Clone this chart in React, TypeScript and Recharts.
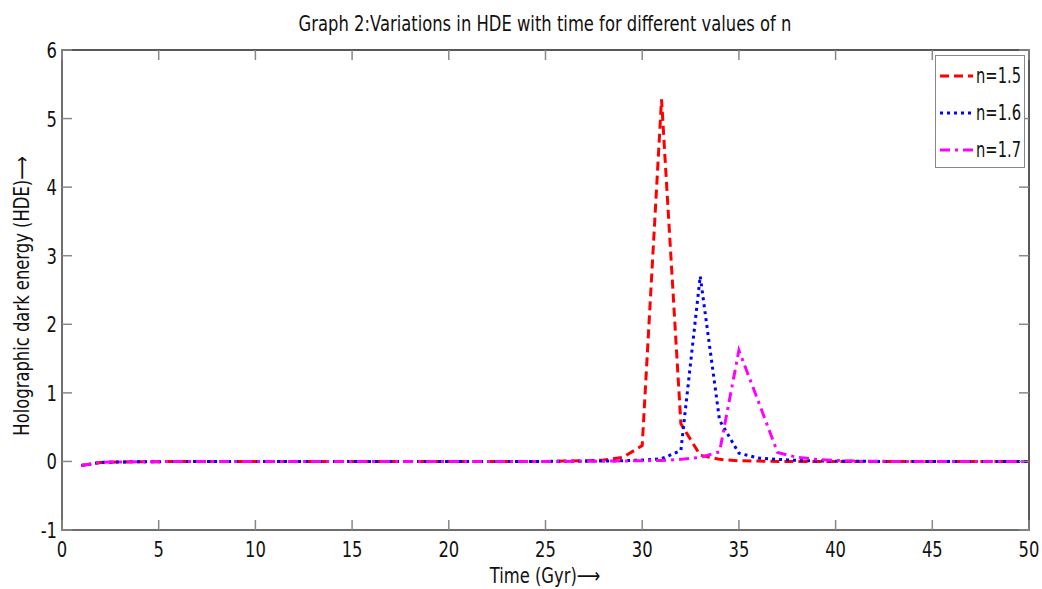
import React from "react";
import { LineChart, Line, XAxis, YAxis } from "recharts";

const time = [
  1, 2, 3, 4, 5, 6, 7, 8, 9, 10, 11, 12, 13, 14, 15, 16, 17, 18, 19, 20, 21, 22, 23, 24, 25,
  26, 27, 28, 29, 30, 31, 32, 33, 34, 35, 36, 37, 38, 39, 40, 41, 42, 43, 44, 45, 46, 47, 48, 49, 50,
];

const hde15 = [
  -0.06, -0.015, -0.008, -0.005, -0.003, -0.002, -0.001, 0, 0, 0, 0, 0, 0, 0, 0, 0, 0, 0, 0, 0, 0, 0, 0, 0, 0,
  0.005, 0.01, 0.02, 0.06, 0.23, 5.28, 0.55, 0.09, 0.03, 0.01, 0.005, 0, 0, 0, 0, 0, 0, 0, 0, 0, 0, 0, 0, 0, 0,
];

const hde16 = [
  -0.06, -0.015, -0.008, -0.005, -0.003, -0.002, -0.001, 0, 0, 0, 0, 0, 0, 0, 0, 0, 0, 0, 0, 0, 0, 0, 0, 0, 0,
  0.002, 0.004, 0.006, 0.01, 0.02, 0.04, 0.16, 2.7, 0.6, 0.12, 0.05, 0.03, 0.015, 0.008, 0.004, 0.002, 0, 0, 0, 0, 0, 0, 0, 0, 0,
];

const hde17 = [
  -0.06, -0.015, -0.008, -0.005, -0.003, -0.002, -0.001, 0, 0, 0, 0, 0, 0, 0, 0, 0, 0, 0, 0, 0, 0, 0, 0, 0, 0,
  0, 0.002, 0.004, 0.007, 0.01, 0.015, 0.03, 0.06, 0.14, 1.62, 0.88, 0.13, 0.06, 0.03, 0.015, 0.005, 0.002, 0, 0, 0, 0, 0, 0, 0, 0,
];

const xTicks = [0, 5, 10, 15, 20, 25, 30, 35, 40, 45, 50];
const yTicks = [-1, 0, 1, 2, 3, 4, 5, 6];

const series = [
  { key: "a", name: "n=1.5", color: "#ff0000", dash: "9 5" },
  { key: "b", name: "n=1.6", color: "#0000ff", dash: "3 4" },
  { key: "c", name: "n=1.7", color: "#ff00ff", dash: "10 5 3 5" },
];

const data = time.map((t, i) => ({ t, a: hde15[i], b: hde16[i], c: hde17[i] }));

// plot box edges (px)
const LEFT = 62;
const RIGHT = 1029;
const TOP = 50;
const BOTTOM = 530;

const FONT = "'DejaVu Sans', sans-serif";
const SQUEEZE = 0.78; // reference uses a very narrow face
const TICK_COLOR = "#888888";

// text squeezed horizontally to mimic the condensed font
function Narrow({ x, y, anchor = "middle", rotate = 0, size = 21, children }: any) {
  return (
    <text
      transform={`translate(${x},${y}) rotate(${rotate}) scale(${SQUEEZE},1)`}
      textAnchor={anchor}
      fontSize={size}
      fill="#111"
      fontFamily={FONT}
    >
      {children}
    </text>
  );
}

function BottomTick({ x, payload }: any) {
  return (
    <g>
      <line x1={x} x2={x} y1={BOTTOM} y2={BOTTOM - 10} stroke={TICK_COLOR} strokeWidth={1.5} />
      <Narrow x={x} y={BOTTOM + 27}>{payload.value}</Narrow>
    </g>
  );
}

function LeftTick({ y, payload }: any) {
  return (
    <g>
      <line x1={LEFT} x2={LEFT + 10} y1={y} y2={y} stroke={TICK_COLOR} strokeWidth={1.5} />
      <Narrow x={LEFT - 5} y={y + 8} anchor="end">{payload.value}</Narrow>
      <line x1={RIGHT} x2={RIGHT - 10} y1={y} y2={y} stroke={TICK_COLOR} strokeWidth={1.5} />
    </g>
  );
}

function TopTick({ x }: any) {
  return <line x1={x} x2={x} y1={TOP} y2={TOP + 10} stroke={TICK_COLOR} strokeWidth={1.5} />;
}

function LegendBox() {
  return (
    <div
      style={{
        position: "absolute",
        left: 935,
        top: 55,
        width: 90,
        height: 113,
        boxSizing: "border-box",
        border: "1.5px solid #888",
        background: "#fff",
        padding: "1px 4px",
        fontFamily: FONT,
        fontSize: 21,
        color: "#111",
      }}
    >
      {series.map((s) => (
        <div key={s.key} style={{ display: "flex", alignItems: "center", height: 37 }}>
          <svg width={33} height={10} style={{ marginRight: 3, flex: "none" }}>
            <line x1={0} x2={33} y1={5} y2={5} stroke={s.color} strokeWidth={3} strokeDasharray={s.dash} />
          </svg>
          <span style={{ display: "inline-block", transform: "scaleX(0.7)", transformOrigin: "left center" }}>
            {s.name}
          </span>
        </div>
      ))}
    </div>
  );
}

export default function App() {
  return (
    <div style={{ position: "absolute", left: 0, top: 0, width: 1042, height: 589, background: "#fff" }}>
      <LineChart
        width={1042}
        height={589}
        data={data}
        margin={{ top: TOP - 1, right: 1042 - RIGHT, left: 0, bottom: 0 }}
      >
        <Narrow x={545} y={31}>Graph 2:Variations in HDE with time for different values of n</Narrow>
        <Narrow x={545} y={583}>Time (Gyr)⟶</Narrow>
        <Narrow x={29} y={296} rotate={-90}>Holographic dark energy (HDE)⟶</Narrow>
        <rect x={LEFT} y={TOP} width={RIGHT - LEFT} height={BOTTOM - TOP} fill="none" stroke="#222" strokeWidth={1.5} />
        <XAxis
          dataKey="t"
          type="number"
          domain={[0, 50]}
          ticks={xTicks}
          height={589 - BOTTOM}
          tickSize={0}
          tickMargin={0}
          tickLine={false}
          axisLine={{ stroke: "#777", strokeWidth: 1.5 }}
          tick={<BottomTick />}
          interval={0}
        />
        <XAxis
          xAxisId="top"
          dataKey="t"
          type="number"
          orientation="top"
          domain={[0, 50]}
          ticks={xTicks}
          height={1}
          tickSize={0}
          tickMargin={0}
          tickLine={false}
          axisLine={false}
          tick={<TopTick />}
          interval={0}
        />
        <YAxis
          type="number"
          domain={[-1, 6]}
          ticks={yTicks}
          width={LEFT}
          tickSize={0}
          tickMargin={0}
          tickLine={false}
          axisLine={{ stroke: "#777", strokeWidth: 1.5 }}
          tick={<LeftTick />}
          interval={0}
        />
        {series.map((s) => (
          <Line
            key={s.key}
            type="linear"
            dataKey={s.key}
            name={s.name}
            stroke={s.color}
            strokeWidth={3}
            strokeDasharray={s.dash}
            dot={false}
            isAnimationActive={false}
          />
        ))}
      </LineChart>
      <LegendBox />
    </div>
  );
}
